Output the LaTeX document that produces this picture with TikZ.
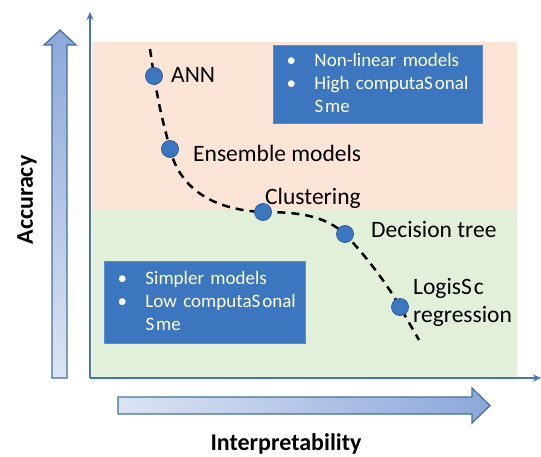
\documentclass[tikz,border=0pt]{standalone}
\usepackage{fontspec}
\setmainfont{Carlito}
\usetikzlibrary{arrows.meta, backgrounds}

\definecolor{pinkzone}{HTML}{FCE4D6}
\definecolor{greenzone}{HTML}{E2F0D9}
\definecolor{boxblue}{HTML}{3B76BF}
\definecolor{boxedge}{HTML}{5A8ED0}
\definecolor{dotedge}{HTML}{2E5E9E}
\definecolor{axisblue}{HTML}{4472C4}
\definecolor{arrowdark}{HTML}{8CA7DA}
\definecolor{arrowlight}{HTML}{DCE4F3}
\definecolor{arrowedge}{HTML}{41719C}

\begin{document}
\begin{tikzpicture}[
    x=1pt, y=-1pt,
    >=Stealth,
    dot/.style={circle, fill=boxblue, draw=dotedge, line width=0.8pt,
        minimum size=17pt, inner sep=0pt},
    modellabel/.style={anchor=base west, inner sep=0pt,
        font=\fontsize{23.5}{28}\selectfont},
    infobox/.style={fill=boxblue, draw=boxedge, line width=1pt,
        anchor=north west, text=white, inner xsep=13pt, inner ysep=0pt,
        font=\fontsize{19}{23}\selectfont},
    bigarrow/.style={draw=arrowedge, line width=1.2pt},
    axislabel/.style={inner sep=0pt, font=\fontsize{24}{28}\selectfont\bfseries}
]
\useasboundingbox (0,0) rectangle (541,456);

% Zones
\begin{pgfonlayer}{background}
\fill[pinkzone] (92,42) rectangle (517,210);
\fill[greenzone] (92,210) rectangle (517,377);
\end{pgfonlayer}

% Axes
\coordinate (origin) at (90,378);
\coordinate (ytip) at (90,12);
\coordinate (xtip) at (541,378);
\draw[axisblue, line width=1.2pt, -{Stealth[length=8pt,width=7pt]}] (origin) -- (ytip);
\draw[axisblue, line width=1.2pt, -{Stealth[length=8pt,width=7pt]}] (origin) -- (xtip);

% Big arrows
\shadedraw[bigarrow, top color=arrowdark, bottom color=arrowlight]
    (52,378) -- (52,45) -- (44,45) -- (60,30) -- (76,45) -- (67,45) -- (67,378) -- cycle;
\shadedraw[bigarrow, left color=arrowlight, right color=arrowdark]
    (118,397) -- (472,397) -- (472,388) -- (490,405.5) -- (472,423) -- (472,414) -- (118,414) -- cycle;

% Axis labels
\node[axislabel, rotate=90] (acc) at (27,200) {Accuracy};
\node[axislabel, anchor=base] (interp) at (286,450) {Interpretability};

% Info boxes
\node[infobox, text width=183pt, minimum height=78pt] (highbox) at (273,45) {%
    \noindent\begin{tabular}{@{}p{28pt}@{}l@{}}
    \textbullet & Non-linear models\\
    \textbullet & High computaS\hspace{2pt}onal\\
                & S\hspace{2pt}me
    \end{tabular}};
\node[infobox, text width=175pt, minimum height=82pt] (lowbox) at (104,261) {%
    \noindent\begin{tabular}{@{}p{28pt}@{}l@{}}
    \textbullet & Simpler models\\
    \textbullet & Low computaS\hspace{2pt}onal\\
                & S\hspace{2pt}me
    \end{tabular}};

% Models on the trade-off curve
\node[dot] (ann) at (154,76) {};
\node[dot] (ens) at (170,149) {};
\node[dot] (clus) at (263,212) {};
\node[dot] (dtree) at (345,234) {};
\node[dot] (logreg) at (400,307) {};
\coordinate (curvetop) at (150,49);
\coordinate (curveend) at (419,340);

% Trade-off curve, under the dots
\begin{pgfonlayer}{background}
\draw[line width=2.5pt, dash pattern=on 8pt off 6pt]
    (curvetop) -- (ann.center) .. controls (160,110) .. (ens.center)
    .. controls (180,190) and (215,210) .. (clus.center)
    .. controls (300,212) and (325,216) .. (dtree.center)
    .. controls (365,255) and (388,285) .. (logreg.center) -- (curveend);
\end{pgfonlayer}

% Model labels
\node[modellabel] (annlbl) at (171,82) {ANN};
\node[modellabel] (enslbl) at (193,161) {Ensemble models};
\node[modellabel] (cluslbl) at (265,204) {Clustering};
\node[modellabel] (dtreelbl) at (371,237) {Decision tree};
\node[modellabel] (loglbl) at (413,294) {LogisS\hspace{2pt}c};
\node[modellabel] (reglbl) at (413,322) {regression};
\end{tikzpicture}
\end{document}
